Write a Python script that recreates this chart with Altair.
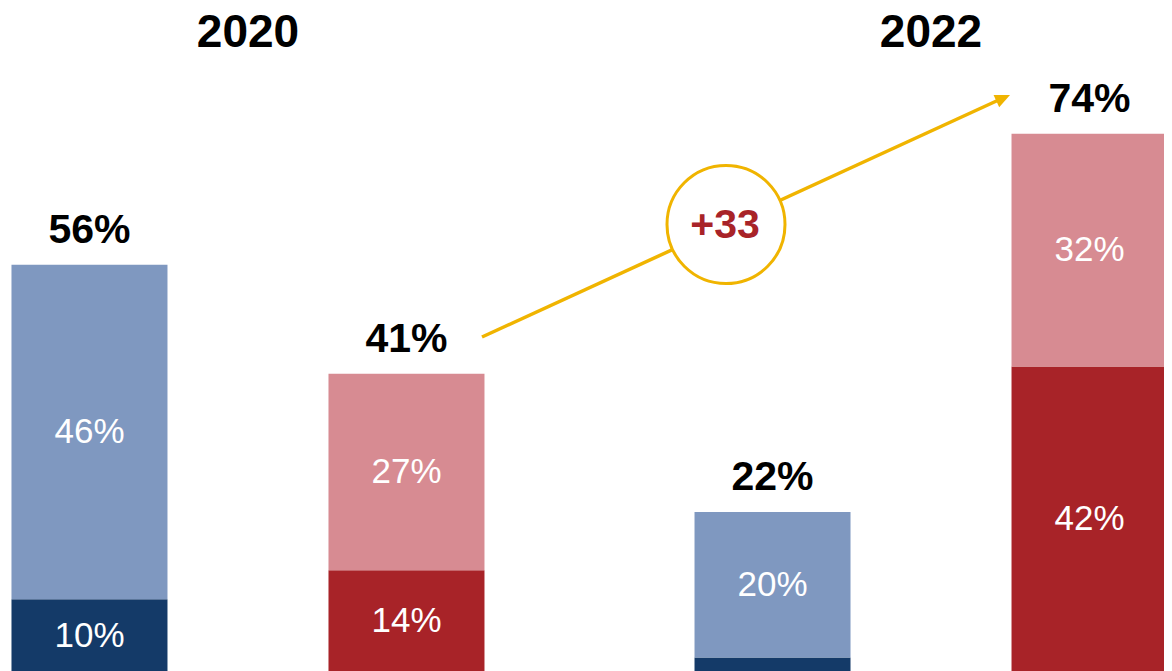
import altair as alt
import pandas as pd

# ---- data ----
years = ["2020", "2022"]
sides = ["blue", "red"]
bar_year = ["2020", "2020", "2022", "2022"]
bar_side = ["blue", "red", "blue", "red"]
lower_vals = [10, 14, 2, 42]
upper_vals = [46, 27, 20, 32]

seg_keys = ["blue-lower", "blue-upper", "red-lower", "red-upper"]
seg_colors = ["#143a68", "#7f98c0", "#a82328", "#d78b92"]

YELLOW = "#f0b400"
FONT = "Liberation Sans"

rows = []
for yr, sd, lo, up in zip(bar_year, bar_side, lower_vals, upper_vals):
    rows.append(dict(year=yr, side=sd, part=0, key=f"{sd}-lower", value=lo,
                     label=f"{lo}%" if lo >= 5 else ""))
    rows.append(dict(year=yr, side=sd, part=1, key=f"{sd}-upper", value=up,
                     label=f"{up}%" if up >= 5 else ""))
seg_df = pd.DataFrame(rows)

totals = [lo + up for lo, up in zip(lower_vals, upper_vals)]
tot_df = pd.DataFrame(dict(year=bar_year, side=bar_side, total=totals,
                           label=[f"{t}%" for t in totals]))
year_df = pd.DataFrame(dict(year=years))
diff = totals[3] - totals[1]
diff_df = pd.DataFrame(dict(label=[f"+{diff}"]))
one = pd.DataFrame(dict(d=[0]))

# x range runs a little past the view width so the last bar is cut by the edge, as in the original
xs = alt.Scale(domain=years, range=[0, 1163], paddingInner=0.3075, paddingOuter=0.0051)
xos = alt.Scale(domain=sides, paddingInner=0.5079, paddingOuter=0)
ys = alt.Scale(domain=[0, 91.3], nice=False, zero=True)

X = alt.X("year:N", scale=xs, axis=None)
XO = alt.XOffset("side:N", scale=xos)

bars = alt.Chart(seg_df).mark_bar(strokeWidth=0).encode(
    x=X, xOffset=XO,
    y=alt.Y("value:Q", stack="zero", scale=ys, axis=None),
    color=alt.Color("key:N", scale=alt.Scale(domain=seg_keys, range=seg_colors), legend=None),
    order=alt.Order("part:Q"),
)

seg_labels = alt.Chart(seg_df).transform_stack(
    stack="value", groupby=["year", "side"], as_=["v0", "v1"],
    sort=[alt.SortField("part", order="ascending")],
).transform_calculate(mid="(datum.v0 + datum.v1) / 2").mark_text(
    font=FONT, fontSize=35, color="white", baseline="middle", align="center"
).encode(
    x=X, xOffset=XO,
    y=alt.Y("mid:Q", scale=ys, axis=None),
    text="label:N",
)

tot_labels = alt.Chart(tot_df).mark_text(
    font=FONT, fontSize=41, fontWeight="bold", color="black",
    baseline="alphabetic", align="center", dy=-22
).encode(
    x=X, xOffset=XO,
    y=alt.Y("total:Q", scale=ys, axis=None),
    text="label:N",
)

year_labels = alt.Chart(year_df).mark_text(
    font=FONT, fontSize=46, fontWeight="bold", color="black",
    baseline="alphabetic", align="center"
).encode(
    x=X, y=alt.value(39), text="year:N",
)

arrow_line = alt.Chart(one).mark_rule(color=YELLOW, strokeWidth=3.5).encode(
    x=alt.value(474), y=alt.value(329), x2=alt.value(995), y2=alt.value(90),
)

arrow_head = alt.Chart(one).mark_point(
    shape="M1,0L-1,-0.9L-1,0.9Z", filled=True, color=YELLOW, opacity=1,
    size=225, angle=335.4, strokeWidth=0
).encode(x=alt.value(995.2), y=alt.value(90.1))

circle = alt.Chart(one).mark_point(
    shape="circle", filled=False, fill="white", fillOpacity=1, stroke=YELLOW,
    strokeWidth=3, opacity=1, size=13924
).encode(x=alt.value(718), y=alt.value(216.5))

diff_text = alt.Chart(diff_df).mark_text(
    font=FONT, fontSize=41, fontWeight="bold", color="#a82328",
    baseline="alphabetic", align="center"
).encode(x=alt.value(717), y=alt.value(230), text="label:N")

chart = alt.layer(
    bars, seg_labels, tot_labels, year_labels, arrow_line, arrow_head, circle, diff_text
).properties(
    width=1156, height=664, padding=0, autosize="none"
).configure_view(stroke=None)

chart.save("out.html", embed_options={"renderer": "svg", "actions": False})
